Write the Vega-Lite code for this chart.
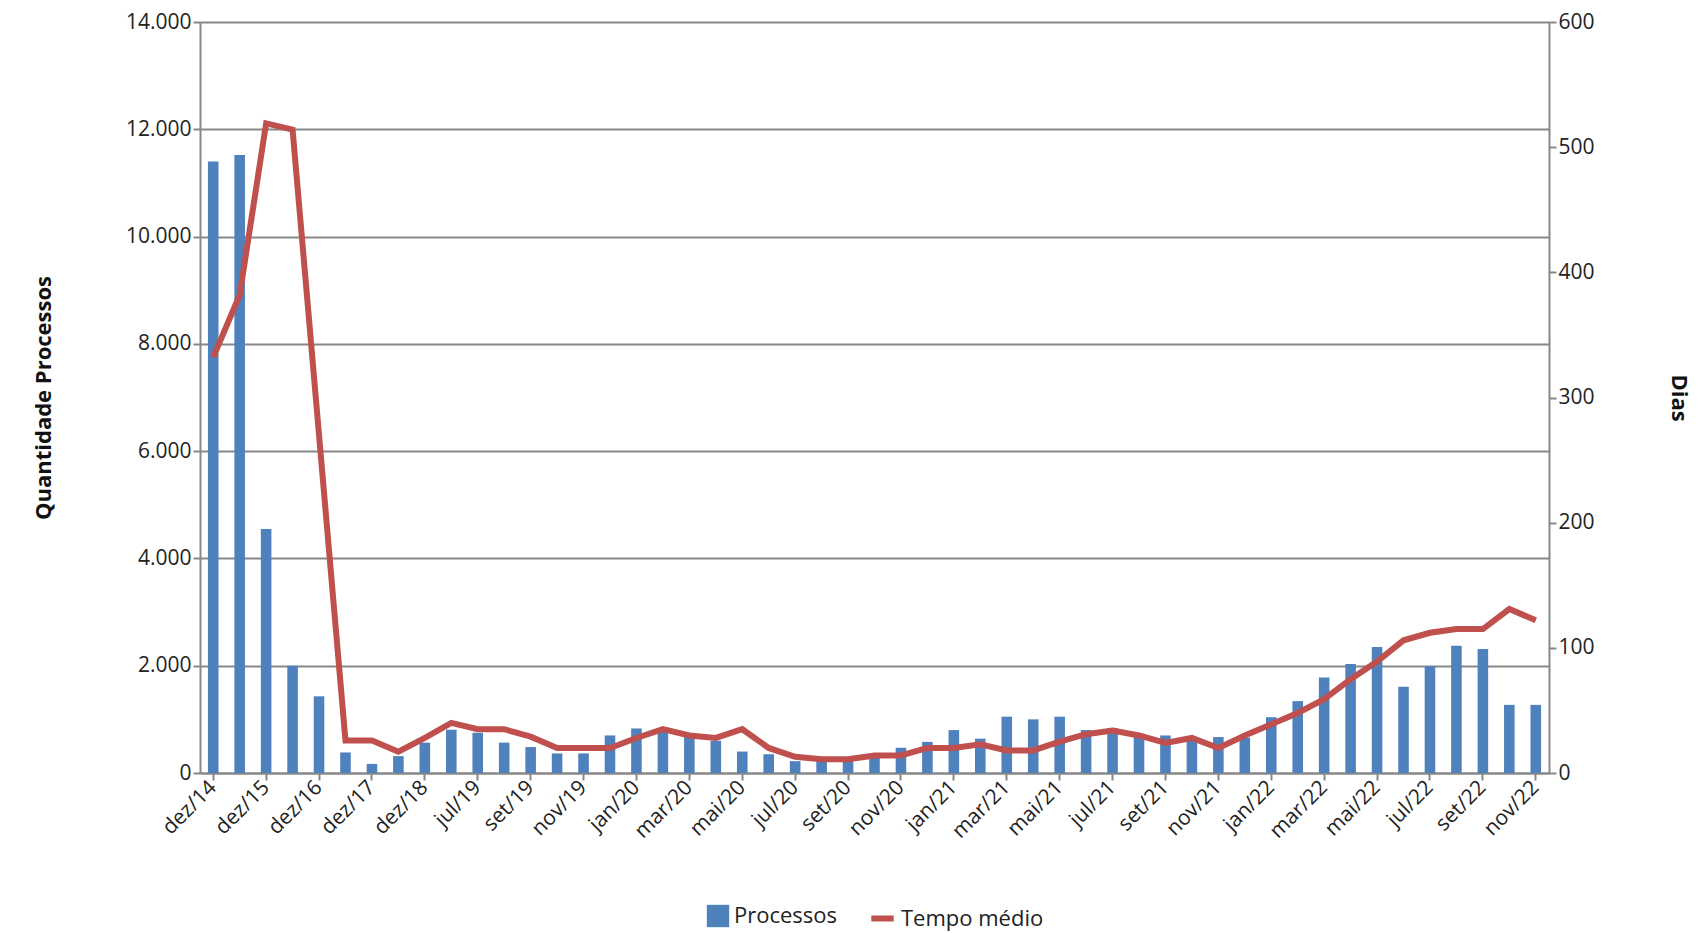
{
  "$schema": "https://vega.github.io/schema/vega-lite/v6.json",
  "autosize": "none",
  "width": 1349,
  "height": 751,
  "padding": {"left": 200, "top": 22, "right": 153, "bottom": 160},
  "config": {
    "font": "Open Sans",
    "view": {"stroke": null},
    "legend": {"layout": {"bottom": {"anchor": "middle", "direction": "horizontal", "margin": 30}}},
    "axis": {"labelFontSize": 21, "labelColor": "#222", "titleFontSize": 22, "titleFontWeight": "bold", "titleColor": "#111", "domainColor": "#888", "tickColor": "#888", "domainWidth": 2, "tickWidth": 2, "gridColor": "#888", "gridWidth": 2}
  },
  "data": {
    "values": [
      {"mes": "dez/14", "processos": 11400, "tempo": 332},
      {"mes": "jun/15", "processos": 11520, "tempo": 382},
      {"mes": "dez/15", "processos": 4550, "tempo": 519},
      {"mes": "jun/16", "processos": 2000, "tempo": 514},
      {"mes": "dez/16", "processos": 1430, "tempo": 270},
      {"mes": "jun/17", "processos": 383, "tempo": 26},
      {"mes": "dez/17", "processos": 170, "tempo": 26},
      {"mes": "jun/18", "processos": 315, "tempo": 17},
      {"mes": "dez/18", "processos": 566, "tempo": 28},
      {"mes": "mar/19", "processos": 805, "tempo": 40},
      {"mes": "jul/19", "processos": 750, "tempo": 35},
      {"mes": "ago/19", "processos": 566, "tempo": 35},
      {"mes": "set/19", "processos": 484, "tempo": 29},
      {"mes": "out/19", "processos": 365, "tempo": 20},
      {"mes": "nov/19", "processos": 365, "tempo": 20},
      {"mes": "dez/19", "processos": 700, "tempo": 20},
      {"mes": "jan/20", "processos": 830, "tempo": 28},
      {"mes": "fev/20", "processos": 800, "tempo": 35},
      {"mes": "mar/20", "processos": 700, "tempo": 30},
      {"mes": "abr/20", "processos": 600, "tempo": 28},
      {"mes": "mai/20", "processos": 400, "tempo": 35},
      {"mes": "jun/20", "processos": 350, "tempo": 20},
      {"mes": "jul/20", "processos": 220, "tempo": 13},
      {"mes": "ago/20", "processos": 250, "tempo": 11},
      {"mes": "set/20", "processos": 300, "tempo": 11},
      {"mes": "out/20", "processos": 330, "tempo": 14},
      {"mes": "nov/20", "processos": 470, "tempo": 14},
      {"mes": "dez/20", "processos": 580, "tempo": 20},
      {"mes": "jan/21", "processos": 800, "tempo": 20},
      {"mes": "fev/21", "processos": 640, "tempo": 23},
      {"mes": "mar/21", "processos": 1050, "tempo": 18},
      {"mes": "abr/21", "processos": 1000, "tempo": 18},
      {"mes": "mai/21", "processos": 1050, "tempo": 25},
      {"mes": "jun/21", "processos": 800, "tempo": 31},
      {"mes": "jul/21", "processos": 840, "tempo": 34},
      {"mes": "ago/21", "processos": 730, "tempo": 30},
      {"mes": "set/21", "processos": 700, "tempo": 24},
      {"mes": "out/21", "processos": 650, "tempo": 28},
      {"mes": "nov/21", "processos": 670, "tempo": 20},
      {"mes": "dez/21", "processos": 660, "tempo": 30},
      {"mes": "jan/22", "processos": 1040, "tempo": 39},
      {"mes": "fev/22", "processos": 1340, "tempo": 48},
      {"mes": "mar/22", "processos": 1780, "tempo": 59},
      {"mes": "abr/22", "processos": 2030, "tempo": 75},
      {"mes": "mai/22", "processos": 2350, "tempo": 89},
      {"mes": "jun/22", "processos": 1610, "tempo": 106},
      {"mes": "jul/22", "processos": 1990, "tempo": 112},
      {"mes": "ago/22", "processos": 2370, "tempo": 115},
      {"mes": "set/22", "processos": 2310, "tempo": 115},
      {"mes": "out/22", "processos": 1270, "tempo": 131},
      {"mes": "nov/22", "processos": 1270, "tempo": 122}
    ]
  },
  "encoding": {
    "x": {
      "field": "mes", "type": "ordinal", "sort": null, "title": null,
      "scale": {"paddingInner": 0.6, "paddingOuter": 0.3},
      "axis": {"labelAngle": -45, "labelAlign": "right", "labelBaseline": "middle", "labelPadding": 4, "tickSize": 7,
        "values": ["dez/14", "dez/15", "dez/16", "dez/17", "dez/18", "jul/19", "set/19", "nov/19", "jan/20", "mar/20", "mai/20", "jul/20", "set/20", "nov/20", "jan/21", "mar/21", "mai/21", "jul/21", "set/21", "nov/21", "jan/22", "mar/22", "mai/22", "jul/22", "set/22", "nov/22"]}
    }
  },
  "layer": [
    {
      "mark": {"type": "bar", "color": "#4F81BD"},
      "encoding": {
        "y": {"field": "processos", "type": "quantitative", "title": "Quantidade Processos",
          "scale": {"domain": [0, 14000]},
          "axis": {"values": [0, 2000, 4000, 6000, 8000, 10000, 12000, 14000], "labelExpr": "replace(format(datum.value, ','), ',', '.')", "titlePadding": 70, "tickSize": 7}},
        "color": {"datum": "Processos", "type": "nominal", "scale": {"range": ["#4F81BD"]},
          "legend": {"title": null, "orient": "bottom", "symbolType": "square", "symbolSize": 500, "labelFontSize": 22, "offset": 62, "labelColor": "#222"}}
      }
    },
    {
      "mark": {"type": "line", "color": "#C0504D", "strokeWidth": 6},
      "encoding": {
        "y": {"field": "tempo", "type": "quantitative", "title": "Dias",
          "scale": {"domain": [0, 600]},
          "axis": {"orient": "right", "grid": false, "values": [0, 100, 200, 300, 400, 500, 600], "titlePadding": 72, "tickSize": 7}},
        "stroke": {"datum": "Tempo médio", "type": "nominal", "scale": {"range": ["#C0504D"]},
          "legend": {"title": null, "orient": "bottom", "symbolType": "stroke", "symbolStrokeWidth": 6, "symbolSize": 500, "labelFontSize": 22, "offset": 62, "labelColor": "#222"}}
      }
    }
  ],
  "resolve": {"scale": {"y": "independent"}}
}
